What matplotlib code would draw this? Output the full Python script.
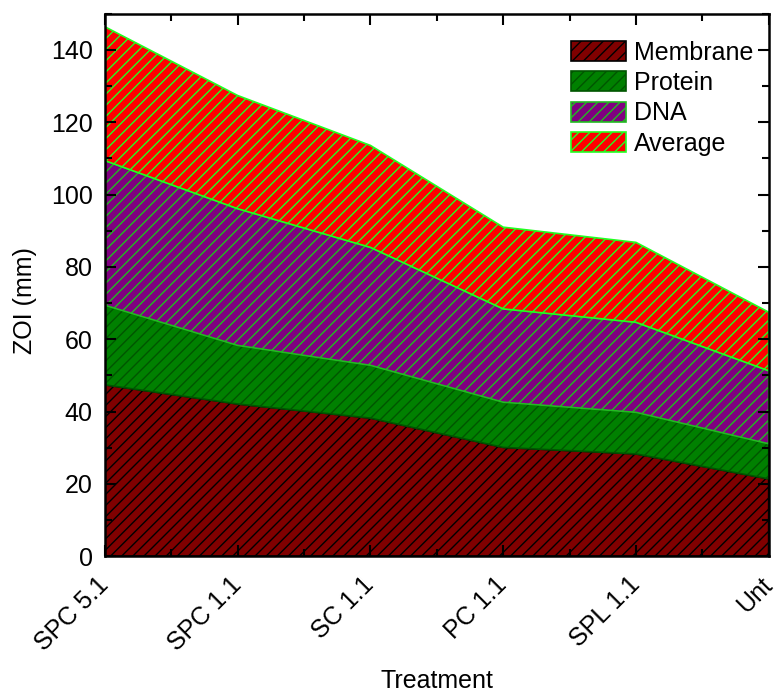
import matplotlib.pyplot as plt
from matplotlib.ticker import MultipleLocator

plt.rcParams["font.family"] = ["Liberation Sans", "DejaVu Sans"]
plt.rcParams["hatch.linewidth"] = 1.0

treatments = ["SPC 5.1", "SPC 1.1", "SC 1.1", "PC 1.1", "SPL 1.1", "Unt"]
membrane = [47.4, 42.1, 38.2, 30.1, 28.3, 21.4]
protein = [22.0, 16.2, 14.6, 12.5, 11.5, 9.7]
dna = [40.0, 37.8, 32.6, 25.8, 24.9, 20.2]
average = [37.0, 31.3, 28.2, 22.6, 22.1, 16.2]

labels = ["Membrane", "Protein", "DNA", "Average"]
faces = ["#800000", "#008000", "#800080", "#ff0000"]
edges = ["#000000", "#005500", "#22bb22", "#22ff22"]

fig = plt.figure(figsize=(7.78, 6.91), dpi=100)
ax = fig.add_axes([0.135, 0.195, 0.853, 0.785])

x = list(range(len(treatments)))
polys = ax.stackplot(x, membrane, protein, dna, average, labels=labels)
for poly, fc, ec in zip(polys, faces, edges):
    poly.set_facecolor(fc)
    poly.set_edgecolor(ec)
    poly.set_linewidth(1.2)
    poly.set_hatch("///")

ax.set_xlim(0, len(treatments) - 1)
ax.set_ylim(0, 150)
ax.set_xticks(x)
ax.set_xticklabels(treatments, rotation=45, ha="right", va="center",
                   rotation_mode="anchor")
ax.xaxis.set_minor_locator(MultipleLocator(0.5))
ax.yaxis.set_major_locator(MultipleLocator(20))
ax.yaxis.set_minor_locator(MultipleLocator(10))
ax.tick_params(which="both", direction="in", top=True, right=True,
               labelsize=18, width=1.5)
ax.tick_params(which="major", length=8)
ax.tick_params(which="minor", length=5)
ax.tick_params(axis="x", which="major", pad=18)
ax.tick_params(axis="y", which="major", pad=9)
for spine in ax.spines.values():
    spine.set_linewidth(1.8)

ax.set_xlabel("Treatment", fontsize=18, va="top")
ax.xaxis.set_label_coords(0.5, -0.207)
ax.set_ylabel("ZOI (mm)", fontsize=18)
ax.yaxis.set_label_coords(-0.102, 0.472)

ax.legend(loc="upper right", bbox_to_anchor=(1.0, 0.978), frameon=False,
          fontsize=18, handlelength=2.2, handleheight=0.85, labelspacing=0.25,
          handletextpad=0.35, borderaxespad=0.2)

fig.savefig("out.png", dpi=100)
